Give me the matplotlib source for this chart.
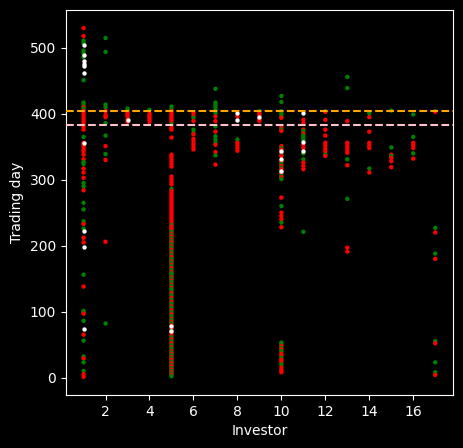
import matplotlib
matplotlib.use("Agg")
import matplotlib.pyplot as plt
import numpy as np

# trading days per investor (index 0 -> investor 1), split by marker colour
red_days = [
    [530, 518, 410, 404, 400, 396, 392, 388, 384, 380, 376, 356, 353, 350, 346, 343, 338, 331,
     317, 311, 303, 284, 233, 212, 205, 138, 97, 65, 29, 5, 1],
    [404, 398, 395, 351, 330, 206],
    [402, 399, 396, 392, 388],
    [400, 397, 394, 391, 388],
    [404, 400, 397, 394, 391, 388, 379, 376, 364, 338, 335, 332, 328, 324, 320, 305, 301, 297,
     293, 283, 280, 277, 274, 271, 268, 265, 262, 259, 256, 253, 250, 247, 244, 241, 238, 235,
     232, 229, 226, 223, 218, 214, 209, 205, 199, 194, 188, 183, 176, 171, 166, 160, 152, 147,
     141, 136, 128, 121, 115, 108, 102, 96, 89, 84, 79, 74, 68, 64, 58, 52, 46, 40, 36, 31, 27,
     22, 17, 12, 8, 4],
    [401, 397, 389, 369, 362, 358, 354, 350, 346],
    [396, 389, 373, 353, 342, 323],
    [396, 356, 352, 348, 344],
    [401, 398, 392, 389],
    [394, 379, 374, 351, 346, 341, 336, 327, 321, 316, 309, 304, 273, 250, 245, 240, 228, 48,
     43, 36, 33, 27, 24, 15, 11, 8],
    [391, 386, 376, 370, 353, 348, 326, 321, 316],
    [403, 391, 376, 367, 356, 352, 347, 343, 336],
    [389, 356, 352, 348, 344, 341, 322, 197, 191],
    [395, 373, 356, 352, 348, 311],
    [338, 333, 328, 319],
    [356, 352, 348, 332],
    [403, 220, 180, 52, 4],
]
green_days = [
    [511, 507, 496, 492, 486, 451, 417, 413, 408, 365, 327, 324, 295, 290, 265, 255, 237, 226,
     156, 101, 99, 86, 56, 32, 23, 10],
    [515, 494, 414, 410, 386, 367, 339, 82],
    [408, 405],
    [406],
    [411, 407, 384, 286, 231, 221, 216, 211, 207, 202, 197, 191, 186, 180, 178, 174, 169, 163,
     158, 155, 150, 145, 139, 134, 131, 125, 118, 112, 106, 99, 93, 87, 82, 70, 61, 55, 49, 44,
     38, 34, 29, 24, 19, 14, 10, 6, 2],
    [394, 376, 371],
    [438, 417, 413, 409, 405, 401, 381, 366, 361, 356, 337],
    [361],
    [404],
    [427, 418, 404, 400, 396, 376, 348, 338, 329, 324, 318, 312, 306, 301, 260, 235, 53, 50,
     45, 40, 30, 20],
    [374, 367, 364, 361, 340, 331, 221],
    [404, 338],
    [456, 439, 331, 271],
    [401, 317],
    [405, 349, 336],
    [399, 365, 340],
    [404, 227, 188, 55, 23, 8],
]
white_days = [
    [505, 489, 480, 475, 472, 462, 355, 223, 198, 73],
    [], [391], [], [78, 71], [], [], [401, 391], [395],
    [343, 331, 313],
    [401, 358, 344],
    [], [], [], [], [], [],
]
orange_level = 405
pink_level = 383

plt.style.use("dark_background")
fig = plt.figure(figsize=(4.63, 4.48), dpi=100)
ax = fig.add_axes([0.1425, 0.1183, 0.8355, 0.8594])

# red and green drawn together, top to bottom, so they overlap in turn
xs, ys, cols = [], [], []
for i in range(len(red_days)):
    pts = [(d, "red") for d in red_days[i]] + [(d, "green") for d in green_days[i]]
    pts.sort(key=lambda p: -p[0])
    for d, c in pts:
        xs.append(i + 1)
        ys.append(d)
        cols.append(c)
ax.scatter(xs, ys, s=10, c=cols, linewidths=0, zorder=2)

wx = np.concatenate([np.full(len(d), i + 1) for i, d in enumerate(white_days)])
wy = np.concatenate([np.array(d, dtype=float) for d in white_days])
ax.scatter(wx, wy, s=10, c="white", linewidths=0, zorder=2)

ax.axhline(orange_level, color="orange", linestyle="--", linewidth=1.5, zorder=3)
ax.axhline(pink_level, color="pink", linestyle="--", linewidth=1.5, zorder=3)

ax.set_xlim(0.2, 17.8)
ax.set_ylim(-26.5, 557.5)
ax.set_xticks(range(2, 17, 2))
ax.set_yticks(range(0, 501, 100))
ax.set_xlabel("Investor")
ax.set_ylabel("Trading day")

fig.savefig("out.png", dpi=100)
